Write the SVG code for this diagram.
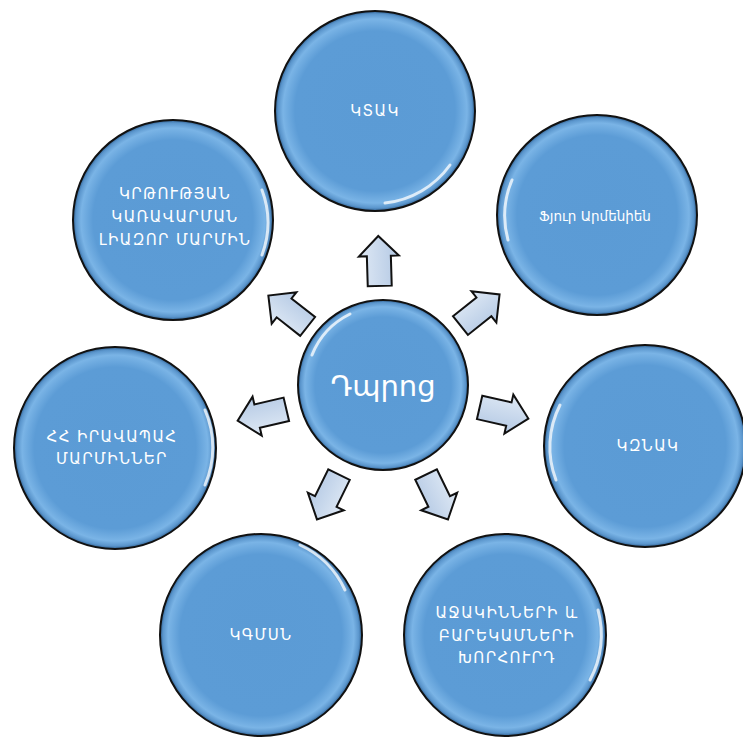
<svg xmlns="http://www.w3.org/2000/svg" width="743" height="740" viewBox="0 0 743 740">
<defs>
<radialGradient id="ball" cx="50%" cy="50%" r="50%">
<stop offset="0" stop-color="#5b9bd5"/>
<stop offset="0.8" stop-color="#5c9cd6"/>
<stop offset="0.92" stop-color="#7ab4e6"/>
<stop offset="0.97" stop-color="#5a95cc"/>
<stop offset="1" stop-color="#2f5f8f"/>
</radialGradient>
<linearGradient id="arr" x1="0" y1="0" x2="0" y2="1">
<stop offset="0" stop-color="#dfe9f5"/>
<stop offset="1" stop-color="#b4c9e4"/>
</linearGradient>
<path id="arrow" d="M-25,-12 L5,-12 L5,-20 L25,0 L5,20 L5,12 L-25,12 Z"/>
</defs>
<style>
.c{fill:url(#ball);stroke:#111;stroke-width:2}
.hl{fill:none;stroke:#fff;stroke-opacity:0.75;stroke-width:3;stroke-linecap:round}
.t{font-family:"DejaVu Sans","Noto Sans",sans-serif;font-size:15px;fill:#fff;text-anchor:middle;letter-spacing:1.4px}
.big{font-size:29px;letter-spacing:0}
.sm{font-size:13.5px;letter-spacing:0}
.a use{fill:url(#arr);stroke:#111;stroke-width:2;stroke-linejoin:miter}
</style>
<rect width="743" height="740" fill="#fff"/>

<g id="connectors" class="a">
<use href="#arrow" transform="translate(379,261) rotate(-91.7)"/>
<use href="#arrow" transform="translate(288,311) rotate(-141.8)"/>
<use href="#arrow" transform="translate(262,415) rotate(166.8)"/>
<use href="#arrow" transform="translate(328,497) rotate(116.2)"/>
<use href="#arrow" transform="translate(437,497) rotate(64)"/>
<use href="#arrow" transform="translate(504,413) rotate(12.9)"/>
<use href="#arrow" transform="translate(480,310) rotate(-38.5)"/>
</g>

<g id="node-center">
<circle class="c" cx="383" cy="385" r="85"/>
<path class="hl" d="M312,355 A78,78 0 0 1 350,314"/>
<text class="t big" x="383" y="396">Դպրոց</text>
</g>

<g id="node-ktak">
<circle class="c" cx="375" cy="111" r="100"/>
<path class="hl" d="M385,203 A92,92 0 0 0 450,165"/>
<text class="t" x="375" y="116">ԿՏԱԿ</text>
</g>

<g id="node-fyur">
<circle class="c" cx="597" cy="215" r="100"/>
<path class="hl" d="M508,240 A92,92 0 0 1 512,180"/>
<text class="t sm" x="595" y="221">Ֆյուր Արմենիեն</text>
</g>

<g id="node-kznak">
<circle class="c" cx="645" cy="446" r="101"/>
<path class="hl" d="M556,480 A92,92 0 0 1 560,405"/>
<text class="t" x="648" y="451">ԿԶՆԱԿ</text>
</g>

<g id="node-council">
<circle class="c" cx="505" cy="635" r="101"/>
<path class="hl" d="M598,610 A95,95 0 0 1 590,680"/>
<text class="t" x="507" y="618">ԱՋԱԿԻՆՆԵՐԻ և</text>
<text class="t" x="507" y="641">ԲԱՐԵԿԱՄՆԵՐԻ</text>
<text class="t" x="507" y="663">ԽՈՐՀՈՒՐԴ</text>
</g>

<g id="node-kgmsn">
<circle class="c" cx="261" cy="635" r="101"/>
<path class="hl" d="M300,545 A92,92 0 0 1 345,590"/>
<text class="t" x="261" y="640">ԿԳՄՍՆ</text>
</g>

<g id="node-hh">
<circle class="c" cx="115" cy="448" r="101"/>
<path class="hl" d="M205,410 A94,94 0 0 1 205,485"/>
<text class="t" x="112" y="442">ՀՀ ԻՐԱՎԱՊԱՀ</text>
<text class="t" x="112" y="464">ՄԱՐՄԻՆՆԵՐ</text>
</g>

<g id="node-krt">
<circle class="c" cx="173" cy="220" r="100"/>
<path class="hl" d="M262,190 A93,93 0 0 1 262,255"/>
<text class="t" x="175" y="199">ԿՐԹՈՒԹՅԱՆ</text>
<text class="t" x="175" y="222">ԿԱՌԱՎԱՐՄԱՆ</text>
<text class="t" x="175" y="245">ԼԻԱԶՈՐ ՄԱՐՄԻՆ</text>
</g>
</svg>
